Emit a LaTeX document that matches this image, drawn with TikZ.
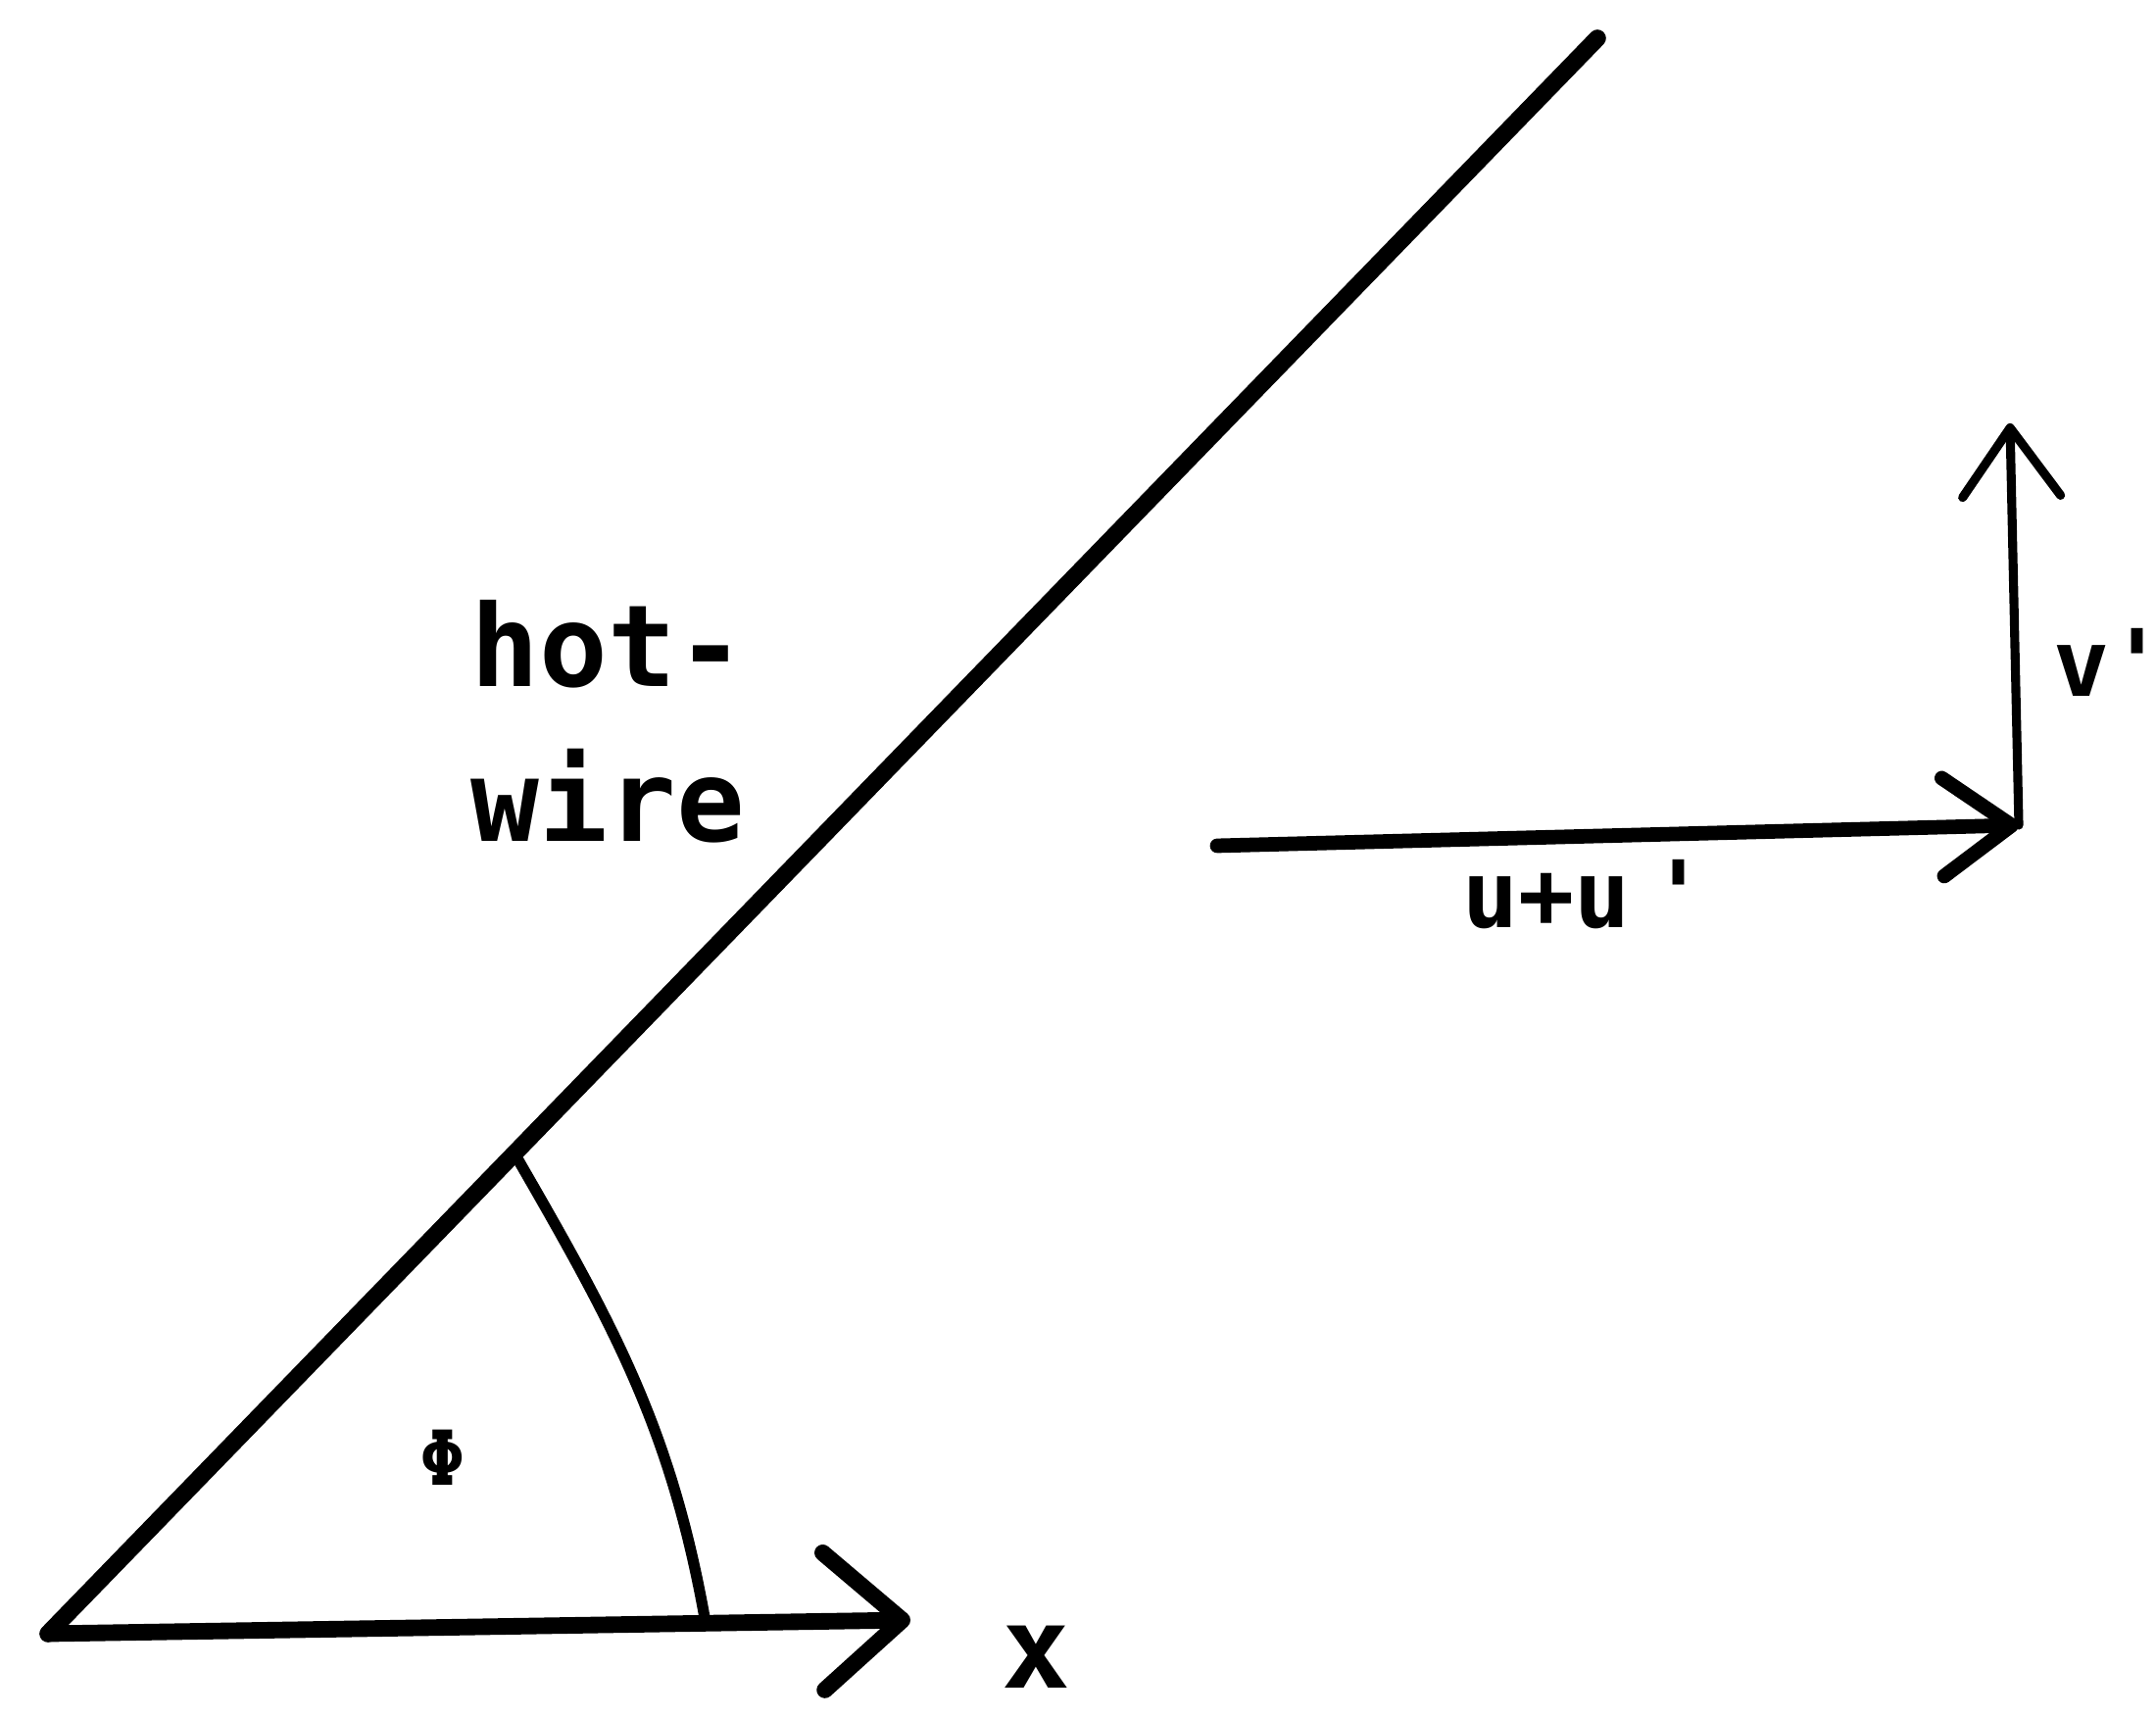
\documentclass[tikz,border=0pt]{standalone}
\usepackage{fontspec}
\setmainfont{DejaVu Sans Mono}
\usetikzlibrary{arrows.meta, positioning}

\begin{document}
\begin{tikzpicture}[
    wire/.style={line width=5pt, line cap=round},
    axis/.style={line width=4.8pt, line cap=round,
        -{Straight Barb[length=8mm, width=14mm, round]}},
    velocity/.style={line width=4.2pt, line cap=round,
        -{Straight Barb[length=7mm, width=10mm, round]}},
    anglearc/.style={line width=3.2pt},
    bigtext/.style={font=\fontsize{33}{45}\selectfont\bfseries, align=left, inner sep=0pt},
    midtext/.style={font=\fontsize{27}{32}\selectfont\bfseries, inner sep=0pt},
    smalltext/.style={font=\fontsize{22}{26}\selectfont\bfseries, inner sep=0pt}
]
\useasboundingbox (0,0) rectangle (22,17.53);

% Wire and flow direction
\coordinate (O) at (0.49,0.86);
\coordinate (wireend) at (16.30,17.14);
\coordinate (xend) at (9.29,1.00);
\coordinate (arcstart) at (5.25,5.76);
\coordinate (arcend) at (7.20,0.97);

\draw[wire] (O) -- (wireend);
\draw[axis] (O) -- (xend);
\draw[anglearc] (arcstart) to[out=-60, in=100] (arcend);

% Velocity components
\coordinate (ustart) at (12.42,8.90);
\coordinate (ucorner) at (20.60,9.11);
\coordinate (vend) at (20.51,13.21);
\draw[velocity] (ustart) -- (ucorner);
\draw[velocity, line width=2.6pt] (ucorner) -- (vend);

% Labels
\node[bigtext, anchor=north west] (hotwire) at (4.80,11.41) {hot-\\wire};
\node[bigtext, anchor=base] (xlabel) at (10.57,0.30) {x};
\node[smalltext] (philabel) at (4.52,2.66) {Φ};
\node[midtext, anchor=base west] (ulabel) at (14.92,8.06) {u+u\kern0.2cm\textquotesingle};
\node[midtext, anchor=base west] (vlabel) at (20.95,10.42) {v\textquotesingle};

\end{tikzpicture}
\end{document}
